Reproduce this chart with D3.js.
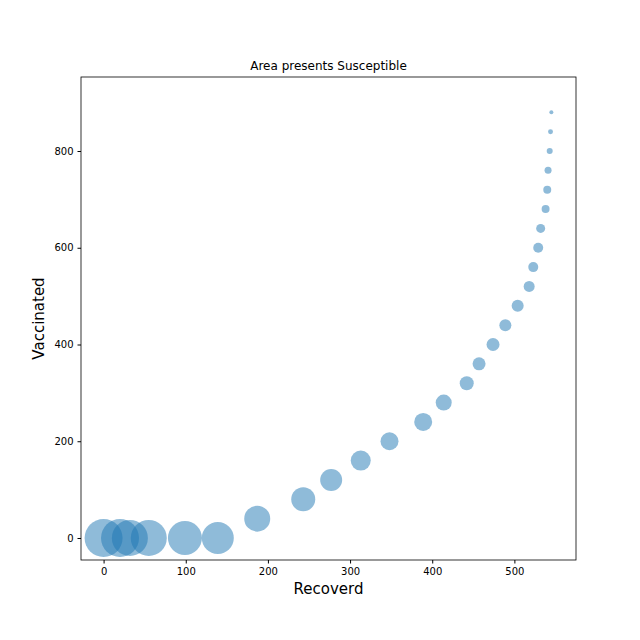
<!DOCTYPE html>
<html><head><meta charset="utf-8">
<script src="https://cdn.jsdelivr.net/npm/d3@7"></script>
<style>body{margin:0;background:#fff}text{font-family:"DejaVu Sans",sans-serif}</style>
</head><body><svg id="c" width="640" height="640"></svg>
<script>
var recovered = [0, 20, 32, 55, 99, 139, 187, 243, 277, 313, 348, 389, 414, 442, 457, 474, 489, 504, 518, 523, 529, 532, 538, 540, 541, 543, 544, 545];
var vaccinated = [0, 0, 0, 0, 0, 0, 40, 80, 120, 160, 200, 240, 280, 320, 360, 400, 440, 480, 520, 560, 600, 640, 680, 720, 760, 800, 840, 880];
var susceptible = [1000, 1000, 898, 898, 800, 709, 468, 399, 335, 277, 224, 224, 177, 136, 117, 117, 100, 100, 84, 69, 69, 56, 44, 44, 34, 25, 17, 11];
var xTicks = [0, 100, 200, 300, 400, 500];
var yTicks = [0, 200, 400, 600, 800];

var svg = d3.select('#c');
var L = 81, R = 576, T = 77, B = 560;
var x = d3.scaleLinear().domain([-27.5, 575]).range([L, R]);
var y = d3.scaleLinear().domain([-45.5, 953]).range([B, T]);
var r = d3.scaleSqrt().domain([0, 1000]).range([0, 19]);

svg.append('g').attr('transform', 'translate(0,' + B + ')')
  .call(d3.axisBottom(x).tickValues(xTicks).tickSize(3.5).tickPadding(4))
  .call(function(g){ g.select('.domain').remove(); g.selectAll('text').attr('font-size', 10).attr('fill', '#000'); });
svg.append('g').attr('transform', 'translate(' + L + ',0)')
  .call(d3.axisLeft(y).tickValues(yTicks).tickSize(3.5).tickPadding(4))
  .call(function(g){ g.select('.domain').remove(); g.selectAll('text').attr('font-size', 10).attr('fill', '#000'); });

svg.append('g').selectAll('circle').data(recovered).join('circle')
  .attr('cx', function(d){ return x(d); })
  .attr('cy', function(d, i){ return y(vaccinated[i]); })
  .attr('r', function(d, i){ return r(susceptible[i]); })
  .attr('fill', '#1f77b4').attr('fill-opacity', 0.5);

svg.append('rect').attr('x', L).attr('y', T).attr('width', R - L).attr('height', B - T)
  .attr('fill', 'none').attr('stroke', '#000').attr('stroke-width', 0.8);

svg.append('text').attr('x', (L + R) / 2).attr('y', 70).attr('text-anchor', 'middle').attr('font-size', 12).text('Area presents Susceptible');
svg.append('text').attr('x', (L + R) / 2).attr('y', 594).attr('text-anchor', 'middle').attr('font-size', 15).text('Recoverd');
svg.append('text').attr('transform', 'translate(44,' + (T + B) / 2 + ') rotate(-90)').attr('text-anchor', 'middle').attr('font-size', 15).text('Vaccinated');
</script></body></html>
